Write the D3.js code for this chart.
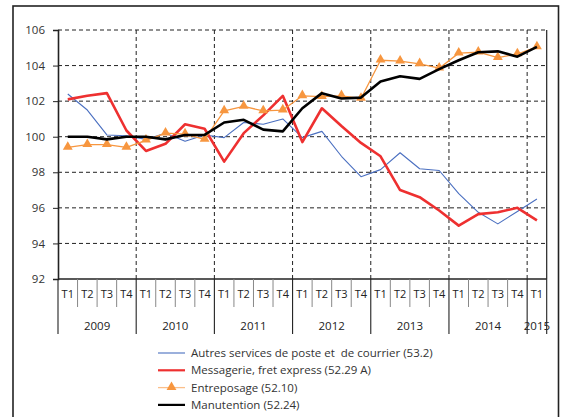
<!DOCTYPE html>
<html>
<head>
<meta charset="utf-8">
<script src="https://cdn.jsdelivr.net/npm/d3@7"></script>
<style>
  body { margin: 0; background: #fff; }
  svg { display: block; font-family: "Open Sans", "DejaVu Sans", sans-serif; }
</style>
</head>
<body>
<div id="chart"></div>
<script>
const years = ["2009", "2010", "2011", "2012", "2013", "2014", "2015"];
const quarters = ["T1", "T2", "T3", "T4"];
const yTicks = [92, 94, 96, 98, 100, 102, 104, 106];

// 2009T1 .. 2015T1
const autresServices = [102.4, 101.5, 100.1, 100.05, 99.85, 100.2, 99.75, 100.1, 99.95, 100.8, 100.7, 101.0,
  99.95, 100.3, 98.9, 97.75, 98.15, 99.1, 98.2, 98.1, 96.8, 95.75, 95.1, 95.8, 96.5];
const messagerie = [102.1, 102.3, 102.45, 100.35, 99.2, 99.6, 100.7, 100.45, 98.6, 100.2, 101.2, 102.3,
  99.7, 101.6, 100.6, 99.65, 98.9, 97.0, 96.6, 95.85, 95.0, 95.65, 95.75, 96.0, 95.3];
const entreposage = [99.4, 99.55, 99.55, 99.4, 99.8, 100.2, 100.15, 99.85, 101.45, 101.7, 101.45, 101.5,
  102.3, 102.25, 102.3, 102.15, 104.3, 104.25, 104.1, 103.85, 104.7, 104.75, 104.45, 104.65, 105.05];
const manutention = [100.0, 100.0, 99.85, 100.0, 100.0, 99.85, 100.1, 100.1, 100.8, 100.95, 100.4, 100.3,
  101.6, 102.45, 102.15, 102.2, 103.1, 103.4, 103.25, 103.8, 104.3, 104.75, 104.8, 104.5, 105.05];

const seriesNames = [
  "Autres services de poste et  de courrier (53.2)",
  "Messagerie, fret express (52.29 A)",
  "Entreposage (52.10)",
  "Manutention (52.24)"
];

const W = 563, H = 417;
const margin = { top: 30, left: 58, right: 16.3, bottom: 138 };
const width = W - margin.left - margin.right;
const height = H - margin.top - margin.bottom;

// category keys: year + quarter
const periods = [];
years.forEach(y => {
  const qs = y === "2015" ? ["T1"] : quarters;
  qs.forEach(q => periods.push({ key: `${y}-${q}`, year: y, q }));
});

const series = [
  { name: seriesNames[0], values: autresServices, color: "#4a6fc0", width: 1.1, marker: false },
  { name: seriesNames[1], values: messagerie, color: "#ee3030", width: 2.6, marker: false },
  { name: seriesNames[2], values: entreposage, color: "#f7963f", width: 1.3, marker: true },
  { name: seriesNames[3], values: manutention, color: "#000000", width: 2.6, marker: false }
];

const svg = d3.select("#chart").append("svg")
  .attr("width", W)
  .attr("height", H);

// outer frame
svg.append("rect")
  .attr("x", 13).attr("y", 6)
  .attr("width", 545.5).attr("height", H + 20)
  .attr("fill", "none")
  .attr("stroke", "#222")
  .attr("stroke-width", 1.6);

const g = svg.append("g").attr("transform", `translate(${margin.left},${margin.top})`);

const x = d3.scaleBand().domain(periods.map(d => d.key)).range([0, width]).padding(0);
const y = d3.scaleLinear().domain([92, 106]).range([height, 0]);

// horizontal gridlines
g.append("g")
  .selectAll("line")
  .data(yTicks.filter(t => t > 92))
  .join("line")
  .attr("x1", 0).attr("x2", width)
  .attr("y1", d => y(d)).attr("y2", d => y(d))
  .attr("stroke", "#222")
  .attr("stroke-width", 1)
  .attr("stroke-dasharray", "4,3");

// vertical gridlines at year boundaries
const yearStarts = periods.filter(d => d.q === "T1" && d.year !== "2009");
g.append("g")
  .selectAll("line")
  .data(yearStarts)
  .join("line")
  .attr("x1", d => x(d.key)).attr("x2", d => x(d.key))
  .attr("y1", 0).attr("y2", height)
  .attr("stroke", "#222")
  .attr("stroke-width", 1)
  .attr("stroke-dasharray", "4,3");

// right border of plot
g.append("line")
  .attr("x1", width).attr("x2", width)
  .attr("y1", 0).attr("y2", height)
  .attr("stroke", "#222").attr("stroke-width", 1.2);

// y axis
const yAxis = g.append("g")
  .call(d3.axisLeft(y).tickValues(yTicks).tickSize(5).tickPadding(8).tickFormat(d3.format("d")));
yAxis.select(".domain").attr("stroke", "#222").attr("stroke-width", 1.6);
yAxis.selectAll(".tick line").attr("stroke", "#222");
yAxis.selectAll("text").attr("font-size", 11.5).attr("fill", "#333")
  .style("font-family", "\"Open Sans\", sans-serif");

// x axis: quarter labels, separators, year labels
const xg = g.append("g").attr("transform", `translate(0,${height})`);
xg.append("line")
  .attr("x1", 0).attr("x2", width)
  .attr("stroke", "#222").attr("stroke-width", 1.6);

xg.selectAll(".qsep")
  .data(periods.filter(d => d.q !== "T1"))
  .join("line")
  .attr("class", "qsep")
  .attr("x1", d => x(d.key)).attr("x2", d => x(d.key))
  .attr("y1", 0).attr("y2", 28)
  .attr("stroke", "#888").attr("stroke-width", 1);

const yearEdges = periods.filter(d => d.q === "T1").map(d => x(d.key)).concat([width]);
xg.selectAll(".ysep")
  .data(yearEdges)
  .join("line")
  .attr("class", "ysep")
  .attr("x1", d => d).attr("x2", d => d)
  .attr("y1", 0).attr("y2", 55)
  .attr("stroke", "#222").attr("stroke-width", 1.1);

xg.selectAll(".qlab")
  .data(periods)
  .join("text")
  .attr("class", "qlab")
  .attr("x", d => x(d.key) + x.bandwidth() / 2)
  .attr("y", 19)
  .attr("text-anchor", "middle")
  .attr("font-size", 11)
  .attr("fill", "#222")
  .text(d => d.q);

xg.selectAll(".ylab")
  .data(years)
  .join("text")
  .attr("class", "ylab")
  .attr("x", yr => {
    const ps = periods.filter(d => d.year === yr);
    return (x(ps[0].key) + x(ps[ps.length - 1].key) + x.bandwidth()) / 2;
  })
  .attr("y", 51)
  .attr("text-anchor", "middle")
  .attr("font-size", 11.5)
  .attr("fill", "#222")
  .text(d => d);

// lines
const line = d3.line()
  .x((d, i) => x(periods[i].key) + x.bandwidth() / 2)
  .y(d => y(d));

const tri = d3.symbol().type(d3.symbolTriangle).size(42);

series.forEach(s => {
  g.append("path")
    .datum(s.values)
    .attr("fill", "none")
    .attr("stroke", s.color)
    .attr("stroke-width", s.width)
    .attr("stroke-linejoin", "round")
    .attr("d", line);
  if (s.marker) {
    g.append("g")
      .selectAll("path")
      .data(s.values)
      .join("path")
      .attr("transform", (d, i) => `translate(${x(periods[i].key) + x.bandwidth() / 2},${y(d) - 0.5})`)
      .attr("d", tri)
      .attr("fill", s.color);
  }
});

// legend
const legend = svg.append("g").attr("transform", "translate(158,353)");
const rows = legend.selectAll("g")
  .data(series)
  .join("g")
  .attr("transform", (d, i) => `translate(0,${i * 17.3})`);
rows.append("line")
  .attr("x1", 0).attr("x2", 27)
  .attr("stroke", d => d.marker ? "#fbbf8a" : d.color)
  .attr("stroke-width", d => Math.min(d.width, 2.2));
rows.filter(d => d.marker)
  .append("path")
  .attr("transform", "translate(13.5,-0.5)")
  .attr("d", tri)
  .attr("fill", d => d.color);
rows.append("text")
  .attr("x", 33)
  .attr("dy", "0.35em")
  .attr("font-size", 11.5)
  .attr("fill", "#333")
  .style("white-space", "pre")
  .text(d => d.name);
</script>
</body>
</html>
